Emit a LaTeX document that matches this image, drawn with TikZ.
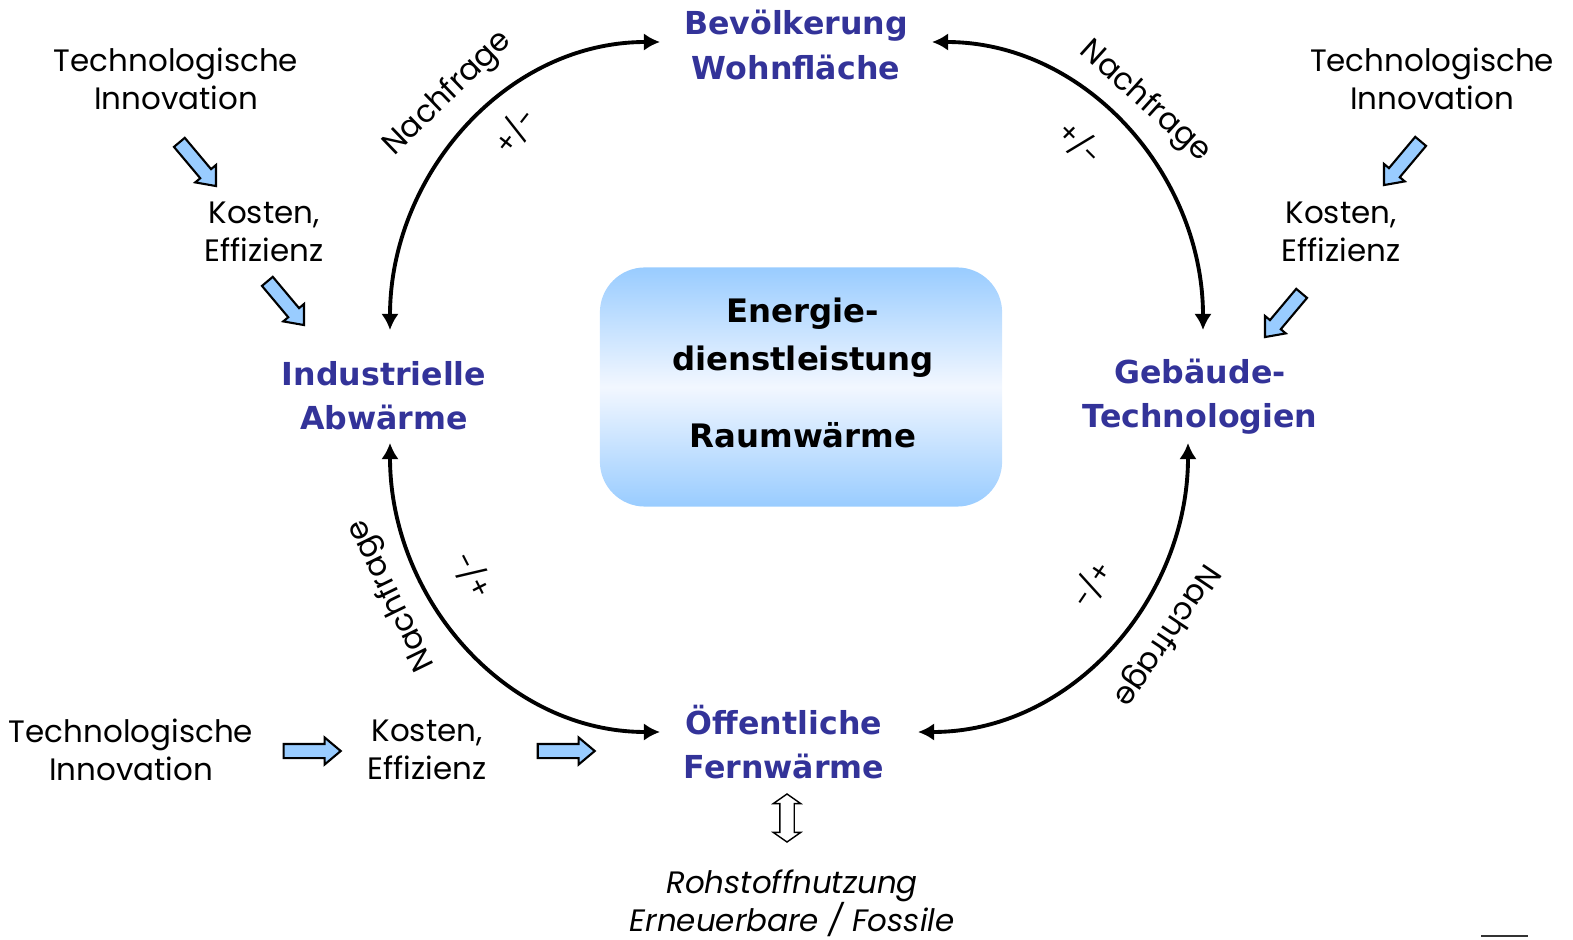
\documentclass[tikz,border=0pt]{standalone}
\usepackage{fontspec}
\setmainfont{Poppins}
\newfontfamily\headfont{DejaVu Sans}
\usetikzlibrary{shapes.arrows, arrows.meta, positioning, calc}

\definecolor{factorblue}{RGB}{51,51,153}
\definecolor{lightblue}{RGB}{153,204,255}
\definecolor{paleblue}{RGB}{242,247,255}

\begin{document}
\begin{tikzpicture}[
        x=0.01cm, y=0.01cm,
        driver/.style={align=center, inner sep=0pt, font=\fontsize{8.8}{10.8}\selectfont},
        factor/.style={align=center, inner sep=0pt, text=factorblue, font=\headfont\bfseries\fontsize{9}{12.6}\selectfont},
        service/.style={rectangle, rounded corners=0.45cm, minimum width=4.02cm, minimum height=2.39cm, top color=lightblue, bottom color=lightblue, middle color=paleblue},
        servicetext/.style={align=center, inner sep=0pt, font=\headfont\bfseries\fontsize{9.2}{13.4}\selectfont},
        pusharrow/.style={single arrow, draw=black, semithick, fill=lightblue, inner sep=0.06cm, single arrow head extend=0.065cm, single arrow tip angle=80, minimum height=0.57cm},
        twoway/.style={double arrow, draw=black, thin, fill=white, inner sep=0.065cm, double arrow head extend=0.065cm, double arrow tip angle=110, minimum height=0.48cm, rotate=90},
        loopline/.style={draw, line width=1.1pt, {Latex[length=4.6pt,width=5pt]}-{Latex[length=4.6pt,width=5pt]}},
        demand/.style={inner sep=0pt, font=\fontsize{8.8}{10}\selectfont},
        sign/.style={inner sep=0pt, font=\fontsize{8}{9}\selectfont}
    ]
        \useasboundingbox (0,0) rectangle (1573,-940);

        % Energy service in the middle
        \node[service] (energie) at (801,-387) {};
        \node[servicetext] (raumtext) at (803,-373) {Energie-\\dienstleistung\\[0.3cm]Raumwärme};

        % Factors
        \node[factor] (bev) at (796,-45) {Bevölkerung\\Wohnfläche};
        \node[factor] (abw) at (384,-396) {Industrielle\\Abwärme};
        \node[factor] (geb) at (1200,-397) {Gebäude-\\Technologien};
        \node[factor] (fern) at (784,-742) {Öffentliche\\Fernwärme};

        % Drivers
        \node[driver] (tech1) at (176,-79) {Technologische\\Innovation};
        \node[driver] (kost1) at (264,-232) {Kosten,\\Effizienz};
        \node[driver] (tech2) at (1432,-79) {Technologische\\Innovation};
        \node[driver] (kost2) at (1341,-232) {Kosten,\\Effizienz};
        \node[driver] (tech3) at (131,-750) {Technologische\\Innovation};
        \node[driver] (kost3) at (427,-750) {Kosten,\\Effizienz};

        \node[pusharrow, rotate=-50] (push1) at (195,-161) {};
        \node[pusharrow, rotate=-50] (push2) at (283,-300) {};
        \node[pusharrow, rotate=230] (push3) at (1405,-160) {};
        \node[pusharrow, rotate=230] (push4) at (1286,-312) {};
        \node[pusharrow] (push5) at (308,-751) {};
        \node[pusharrow] (push6) at (562,-751) {};

        % Raw materials
        \node[twoway] (rohpfeil) at (787,-818) {};
        \node[driver, font=\itshape\fontsize{8.8}{10.8}\selectfont] (roh) at (792,-903) {Rohstoffnutzung\\Erneuerbare / Fossile};

        % Cycle
        \draw[loopline] ($(abw)+(6,66)$) to[out=90,in=180] ($(bev)+(-136,3)$);
        \draw[loopline] ($(bev)+(136,3)$) to[out=0,in=90] ($(geb)+(3,67)$);
        \draw[loopline] ($(abw)+(6,-47)$) to[out=-90,in=180] ($(fern)+(-124,10)$);
        \draw[loopline] ($(fern)+(134,10)$) to[out=0,in=-90] ($(geb)+(-12,-46)$);

        \node[demand, rotate=44] (nf1) at (448,-94) {Nachfrage};
        \node[demand, rotate=-42] (nf2) at (1145,-102) {Nachfrage};
        \node[demand, rotate=116] (nf3) at (392,-595) {Nachfrage};
        \node[demand, rotate=236] (nf4) at (1166,-635) {Nachfrage};
        \node[sign, rotate=52] (pm1) at (515,-131) {+/-};
        \node[sign, rotate=-45] (pm2) at (1080,-143) {+/-};
        \node[sign, rotate=117] (pm3) at (473,-575) {+/-};
        \node[sign, rotate=236] (pm4) at (1092,-585) {+/-};

        \draw[line width=0.57pt, black!80] (1481,-936) -- (1528,-936);
    \end{tikzpicture}
\end{document}
